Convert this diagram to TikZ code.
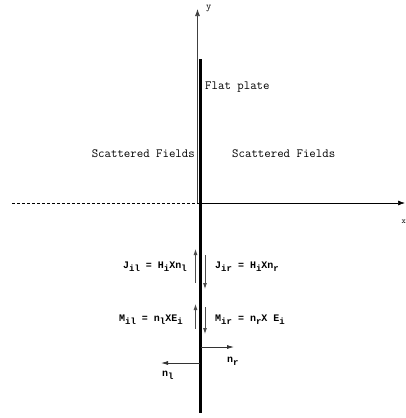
\documentclass[tikz,border=0pt]{standalone}
\usepackage{fontspec}
\newfontfamily\eqfont{Liberation Mono}
\usetikzlibrary{arrows.meta}
\newcommand{\sbs}[1]{\raisebox{-3pt}{\fontsize{9}{10}\selectfont #1}}
\tikzset{
  lbl/.style={font=\ttfamily\fontsize{12.5}{14}\selectfont, inner sep=0pt},
  eq/.style={font=\eqfont\bfseries\fontsize{10}{12}\selectfont, inner sep=0pt},
  axis/.style={line width=0.7pt, -{Latex[length=7pt,width=5pt]}},
  cur/.style={line width=0.8pt, black!70, -{Latex[length=6pt,width=4pt]}},
  nrm/.style={line width=0.8pt, black!80, -{Latex[length=7pt,width=4pt]}},
  plate/.style={line width=3pt, line cap=butt}
}
\begin{document}
\begin{tikzpicture}[x=1pt,y=-1pt]
\useasboundingbox (0,0) rectangle (406,418);
% axes
\coordinate (O) at (197.5,203);
\coordinate (ytop) at (197.5,9);
\coordinate (xleft) at (12,203);
\coordinate (xright) at (405,203);
\draw[line width=0.7pt, dashed, dash pattern=on 3pt off 2pt] (xleft) -- (O);
\draw[axis] (O) -- (xright);
\draw[axis, black!75] (O) -- (ytop);
\node[font=\ttfamily\fontsize{10}{11}\selectfont, inner sep=0pt, anchor=west] (ylab) at (206,8) {y};
\node[font=\ttfamily\fontsize{8}{9}\selectfont, inner sep=0pt, anchor=west] (xlab) at (401.5,222) {x};
% plate
\coordinate (ptop) at (200.5,59);
\coordinate (pbot) at (200.5,413);
\draw[plate] (ptop) -- (pbot);
% labels
\node[lbl, anchor=west] (fp) at (205,87) {Flat plate};
\node[lbl, anchor=east] (sfl) at (195,154) {Scattered Fields};
\node[lbl, anchor=west] (sfr) at (232,154) {Scattered Fields};
% currents
\node[eq, anchor=east] (jil) at (187,267) {J\sbs{il} = H\sbs{i}Xn\sbs{l}};
\node[eq, anchor=west] (jir) at (215,267) {J\sbs{ir} = H\sbs{i}Xn\sbs{r}};
\node[eq, anchor=east] (mil) at (183,320) {M\sbs{il} = n\sbs{l}XE\sbs{i}};
\node[eq, anchor=west] (mir) at (215,320) {M\sbs{ir} = n\sbs{r}X E\sbs{i}};
\coordinate (a1s) at (195.5,283);
\coordinate (a1e) at (195.5,249);
\coordinate (a2s) at (205,255);
\coordinate (a2e) at (205,289);
\coordinate (a3s) at (195.5,329);
\coordinate (a3e) at (195.5,304);
\coordinate (a4s) at (205,307);
\coordinate (a4e) at (205,334);
\draw[cur] (a1s) -- (a1e);
\draw[cur] (a2s) -- (a2e);
\draw[cur] (a3s) -- (a3e);
\draw[cur] (a4s) -- (a4e);
% normals
\coordinate (nrs) at (201,347);
\coordinate (nre) at (234,347);
\coordinate (nls) at (200,363);
\coordinate (nle) at (161,363);
\draw[nrm] (nrs) -- (nre);
\draw[nrm] (nls) -- (nle);
\node[eq, anchor=west] (nr) at (227,361.5) {n\sbs{r}};
\node[eq, anchor=west] (nl) at (162,375) {n\sbs{l}};
\end{tikzpicture}
\end{document}
